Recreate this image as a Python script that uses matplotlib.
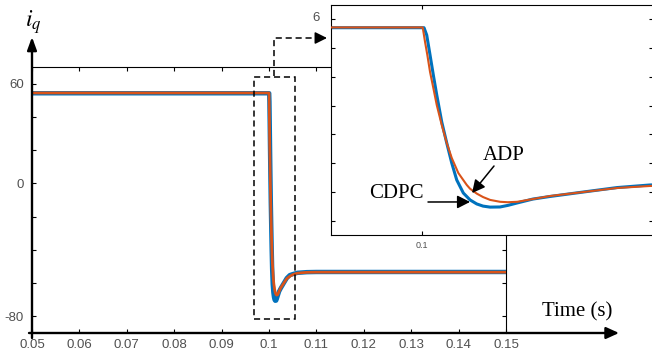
import matplotlib
matplotlib.use('Agg')
import matplotlib.pyplot as plt
from matplotlib.lines import Line2D
from matplotlib.patches import Rectangle, FancyArrowPatch

plt.rcParams['mathtext.fontset'] = 'stix'

# ---------------- data ----------------
t_adp = [0.05, 0.100013, 0.100058, 0.100102, 0.100154, 0.100217, 0.100283,
         0.100379, 0.100475, 0.100571, 0.100698, 0.10086, 0.100923, 0.101052,
         0.101173, 0.10131, 0.1015, 0.10165, 0.10183, 0.10213, 0.10246,
         0.1031, 0.10375, 0.10438, 0.105, 0.106, 0.108, 0.11, 0.15]
i_adp = [54.4, 54.4, 44.3, 35.2, 23.4, 12.3, 0.4,
         -13.5, -26.0, -36.4, -46.9, -55.2, -57.8, -61.2,
         -63.6, -65.6, -66.9, -67.2, -66.9, -65.0, -62.9,
         -60.1, -57.3, -55.9, -54.9, -54.0, -53.5, -53.4, -53.4]

t_cdpc = [0.05, 0.100038, 0.10009, 0.100154, 0.100217, 0.100283, 0.100379,
          0.100475, 0.100571, 0.100667, 0.100794, 0.100923, 0.101052, 0.101173,
          0.101308, 0.1015, 0.10165, 0.10183, 0.10213, 0.10246, 0.1031,
          0.10375, 0.10438, 0.105, 0.106, 0.108, 0.11, 0.15]
i_cdpc = [54.2, 54.2, 49.1, 35.2, 21.3, 7.4, -11.4,
          -26.0, -39.9, -51.7, -60.8, -65.6, -68.4, -69.9,
          -70.6, -70.5, -69.4, -67.7, -65.0, -63.2, -60.1,
          -57.0, -55.2, -54.6, -53.8, -53.4, -53.3, -53.3]

x_ticks = [0.05, 0.06, 0.07, 0.08, 0.09, 0.1, 0.11, 0.12, 0.13, 0.14, 0.15]
x_tick_labels = ['0.05', '0.06', '0.07', '0.08', '0.09', '0.1', '0.11',
                 '0.12', '0.13', '0.14', '0.15']
y_ticks = [-80, -60, -40, -20, 0, 20, 40, 60]
y_tick_labels = ['-80', '', '', '', '0', '', '', '60']
inset_x_ticks = [0.1]
inset_x_tick_labels = ['0.1']

BLUE = '#0072BD'
ORANGE = '#D95319'
GRAY = '#505050'
SANS = 'Liberation Sans'
SERIF = 'Liberation Serif'

W, H = 652, 357
fig = plt.figure(figsize=(W / 100, H / 100), dpi=100)


def fp(x, y):
    return (x / W, 1 - y / H)


# ---------------- main axes ----------------
ax = fig.add_axes([32 / W, 1 - 333 / H, (506 - 32) / W, (333 - 67) / H])
ax.plot(t_cdpc, i_cdpc, color=BLUE, lw=3.2, zorder=2, solid_joinstyle='round')
ax.plot(t_adp, i_adp, color=ORANGE, lw=2.0, zorder=3, solid_joinstyle='round')
ax.set_xlim(0.05, 0.15)
ax.set_ylim(-90, 70)
ax.set_xticks(x_ticks)
ax.set_xticklabels(x_tick_labels, fontfamily=SANS)
ax.set_yticks(y_ticks)
ax.set_yticklabels(y_tick_labels, fontfamily=SANS)
ax.tick_params(direction='in', top=True, right=True, length=3, width=0.8,
               labelsize=9.5, labelcolor=GRAY)
ax.tick_params(axis='x', pad=4)
ax.tick_params(axis='y', pad=6)
ax.spines['left'].set_visible(False)
ax.spines['bottom'].set_visible(False)
for s in ('top', 'right'):
    ax.spines[s].set_linewidth(0.8)

# zoom rectangle
ax.add_patch(Rectangle((0.09684, -81.5), 0.10549 - 0.09684, 64.2 + 81.5,
                       fill=False, ls=(0, (4, 2.5)), lw=1.1, ec='k',
                       clip_on=False, zorder=4))

# axis arrows
fig.add_artist(FancyArrowPatch(fp(32, 338), fp(32, 37), transform=fig.transFigure,
                               arrowstyle='-|>,head_length=0.55,head_width=0.2',
                               mutation_scale=14, lw=1.7, color='k',
                               shrinkA=0, shrinkB=0))
fig.add_artist(FancyArrowPatch(fp(29, 333), fp(619, 333), transform=fig.transFigure,
                               arrowstyle='-|>,head_length=0.55,head_width=0.25',
                               mutation_scale=14, lw=1.7, color='k',
                               shrinkA=0, shrinkB=0))

# dashed connector to inset
xs, ys = zip(fp(274, 76), fp(274, 38), fp(320, 38))
fig.add_artist(Line2D(xs, ys, transform=fig.transFigure, color='k', lw=1.1,
                      ls=(0, (4, 2.5))))
fig.add_artist(FancyArrowPatch(fp(316, 38), fp(327, 38), transform=fig.transFigure,
                               arrowstyle='-|>,head_length=0.6,head_width=0.3',
                               mutation_scale=12, lw=1.1, color='k',
                               shrinkA=0, shrinkB=0))

fig.text(*fp(577, 312), 'Time (s)', fontfamily=SERIF, fontsize=15,
         ha='center', va='center')
fig.text(*fp(33, 22), r'$i_q$', fontsize=17, ha='center', va='center')

# ---------------- inset axes ----------------
axi = fig.add_axes([331 / W, 1 - 235 / H, (653 - 331) / W, (235 - 5) / H])
axi.set_zorder(5)
axi.set_facecolor('white')
axi.plot(t_cdpc, i_cdpc, color=BLUE, lw=2.2, zorder=2, solid_joinstyle='round')
axi.plot(t_adp, i_adp, color=ORANGE, lw=1.5, zorder=3, solid_joinstyle='round')
axi.set_xlim(0.09825, 0.10444)
axi.set_ylim(-90, 70)
axi.set_xticks(inset_x_ticks)
axi.set_xticklabels(inset_x_tick_labels, fontfamily=SANS)
axi.set_yticks(y_ticks)
axi.set_yticklabels([])
axi.tick_params(direction='in', top=True, right=True, length=3, width=0.8,
                labelsize=6.5, labelcolor=GRAY)
axi.tick_params(axis='x', pad=4)
for s in axi.spines.values():
    s.set_linewidth(0.8)

fig.text(*fp(316, 18), '6', fontfamily=SANS, fontsize=9.5, color=GRAY,
         ha='center', va='center')

# inset annotations
axi.annotate('', xy=(0.100962, -60.8), xycoords='data',
             xytext=fp(494, 166), textcoords='figure fraction',
             arrowprops=dict(arrowstyle='-|>,head_length=0.55,head_width=0.28',
                             mutation_scale=14, lw=1.1, color='k',
                             shrinkA=0, shrinkB=0))
axi.annotate('', xy=(0.100923, -67.0), xycoords='data',
             xytext=fp(428, 202), textcoords='figure fraction',
             arrowprops=dict(arrowstyle='-|>,head_length=0.55,head_width=0.28',
                             mutation_scale=14, lw=1.1, color='k',
                             shrinkA=0, shrinkB=0))
fig.text(*fp(504, 155), 'ADP', fontfamily=SERIF, fontsize=15,
         ha='center', va='center', zorder=10)
fig.text(*fp(396, 193), 'CDPC', fontfamily=SERIF, fontsize=15,
         ha='center', va='center', zorder=10)

fig.savefig('out.png', dpi=100)
